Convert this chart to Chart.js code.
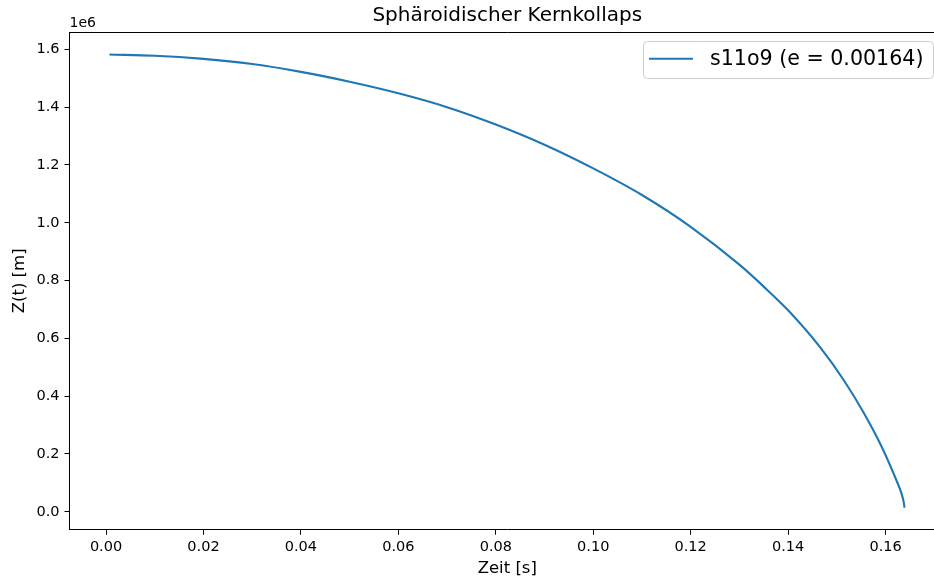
<!DOCTYPE html>
<html lang="de">
<head>
<meta charset="utf-8">
<title>Sphäroidischer Kernkollaps</title>
<script src="https://cdn.jsdelivr.net/npm/chart.js@4.4.1/dist/chart.umd.min.js"></script>
<style>
  html, body { margin: 0; padding: 0; background: #fff; overflow: hidden; }
  #wrap { width: 934px; height: 581px; overflow: hidden; }
  canvas { display: block; }
</style>
</head>
<body>
<div id="wrap"><canvas id="kollaps" width="950" height="581"></canvas></div>
<script>
// Halbachse Z(t) beim Kollaps, t in s, Z in m
const zeit  = [0.0007, 0.01, 0.02, 0.03, 0.04, 0.05, 0.06, 0.07, 0.08, 0.09, 0.10, 0.11, 0.12, 0.13, 0.135, 0.14, 0.14667, 0.1514, 0.1556, 0.1592, 0.1622, 0.1633, 0.1637, 0.1639];
const hoehe = [1582000, 1578000, 1567000, 1549000, 1522000, 1488000, 1448000, 1400000, 1340000, 1270000, 1188000, 1096000, 986000, 855000, 779000, 697000, 567000, 456000, 340000, 225000, 110000, 62000, 35000, 14000];
const serie = 's11o9 (e = 0.00164)';

const xTicks = [0.00, 0.02, 0.04, 0.06, 0.08, 0.10, 0.12, 0.14, 0.16];
const yTicks = [0.0, 0.2, 0.4, 0.6, 0.8, 1.0, 1.2, 1.4, 1.6];

const FONT = "'DejaVu Sans', 'Liberation Sans', sans-serif";
const BLAU = '#1f77b4';

// Rahmen oben, Titel, Achsenbeschriftung, Offset "1e6" und Legende
const beschriftung = {
    id: 'beschriftung',
    afterDraw(chart) {
        const c = chart.ctx;
        const a = chart.chartArea;
        c.save();
        c.strokeStyle = '#000';
        c.lineWidth = 1;
        c.beginPath();
        c.moveTo(a.left, Math.round(a.top) + 0.5);
        c.lineTo(a.right, Math.round(a.top) + 0.5);
        c.moveTo(Math.round(a.right) + 0.5, a.top);
        c.lineTo(Math.round(a.right) + 0.5, a.bottom);
        c.stroke();

        c.fillStyle = '#000';
        c.textAlign = 'center';
        c.textBaseline = 'middle';
        c.font = '20px ' + FONT;
        c.fillText('Sphäroidischer Kernkollaps', (a.left + a.right) / 2, 16);

        c.font = '16.5px ' + FONT;
        c.fillText('Zeit [s]', (a.left + a.right) / 2, 569);
        c.save();
        c.translate(19.5, (a.top + a.bottom) / 2);
        c.rotate(-Math.PI / 2);
        c.fillText('Z(t) [m]', 0, 0);
        c.restore();

        c.textAlign = 'left';
        c.font = '14px ' + FONT;
        c.fillText('1e6', a.left, 23);

        // Legende
        const lx = 643.5, ly = 41.5, lw = 290, lh = 37;
        c.beginPath();
        c.roundRect(lx, ly, lw, lh, 4);
        c.fillStyle = 'rgba(255,255,255,0.8)';
        c.fill();
        c.strokeStyle = '#cccccc';
        c.stroke();
        c.strokeStyle = BLAU;
        c.lineWidth = 2.1;
        c.beginPath();
        c.moveTo(649, 58.7);
        c.lineTo(693, 58.7);
        c.stroke();
        c.fillStyle = '#000';
        c.font = '20.6px ' + FONT;
        c.fillText(serie, 710, 59.5);
        c.restore();
    }
};

const ctx = document.getElementById('kollaps').getContext('2d');
new Chart(ctx, {
    type: 'line',
    data: {
        datasets: [{
            label: serie,
            data: zeit.map((t, i) => ({ x: t, y: hoehe[i] })),
            borderColor: BLAU,
            borderWidth: 2.1,
            pointRadius: 0,
            fill: false,
            cubicInterpolationMode: 'monotone'
        }]
    },
    options: {
        responsive: false,
        devicePixelRatio: 1,
        animation: false,
        layout: { padding: { top: 32, right: 5, bottom: 0, left: 0 } },
        plugins: {
            legend: { display: false },
            title: { display: false },
            tooltip: { enabled: false }
        },
        scales: {
            x: {
                type: 'linear',
                min: -0.0075,
                max: 0.1722,
                afterFit(s) { s.height = 51.3; },
                afterBuildTicks(s) { s.ticks = xTicks.map(v => ({ value: v })); },
                grid: { drawOnChartArea: false, drawTicks: true, tickLength: 5, color: '#000' },
                border: { display: true, color: '#000', width: 1 },
                ticks: {
                    color: '#000',
                    padding: 4,
                    maxRotation: 0,
                    font: { family: FONT, size: 14.5 },
                    callback: v => v.toFixed(2)
                }
            },
            y: {
                type: 'linear',
                min: -62000,
                max: 1660000,
                afterFit(s) { s.width = 69.5; },
                afterBuildTicks(s) { s.ticks = yTicks.map(v => ({ value: v * 1e6 })); },
                grid: { drawOnChartArea: false, drawTicks: true, tickLength: 5, color: '#000' },
                border: { display: true, color: '#000', width: 1 },
                ticks: {
                    color: '#000',
                    padding: 5,
                    font: { family: FONT, size: 14.5 },
                    callback: v => (v / 1e6).toFixed(1)
                }
            }
        }
    },
    plugins: [beschriftung]
});
</script>
</body>
</html>
